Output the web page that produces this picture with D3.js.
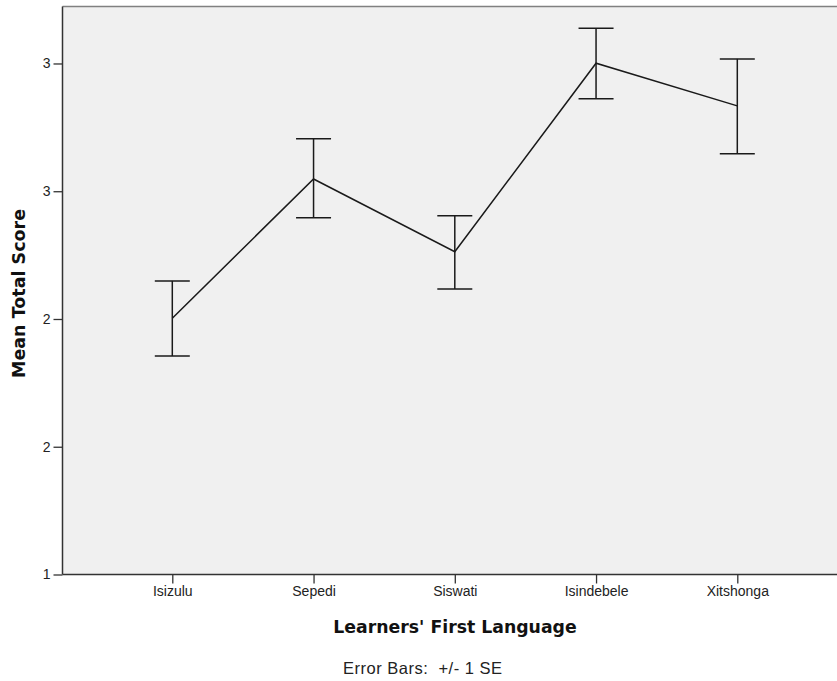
<!DOCTYPE html>
<html><head><meta charset="utf-8">
<script src="https://cdn.jsdelivr.net/npm/d3@7"></script>
<style>body{margin:0;background:#fff;}svg{display:block;}</style>
</head><body>
<script>
const categories = ["Isizulu", "Sepedi", "Siswati", "Isindebele", "Xitshonga"];
const means = [2.003, 2.548, 2.263, 3.001, 2.834];
const upper = [2.149, 2.705, 2.404, 3.138, 3.018];
const lower = [1.855, 2.396, 2.117, 2.862, 2.647];
const yTickValues = [1, 1.5, 2, 2.5, 3];
const yTickLabels = ["1", "2", "2", "3", "3"];
const xTitle = "Learners' First Language";
const yTitle = "Mean Total Score";
const note = "Error Bars:  +/- 1 SE";

(function () {
const W = 837, H = 681;
const plotLeft = 62.5, plotTop = 6.5, plotBottom = 574.5;
const svg = d3.select("body").append("svg").attr("width", W).attr("height", H);

const x = d3.scalePoint().domain(categories).range([172.3, 737.3]);
const y = d3.scaleLinear().domain([1, 3.223]).range([plotBottom, plotTop]);

svg.append("rect").attr("x", plotLeft).attr("y", plotTop).attr("width", W - plotLeft + 5).attr("height", plotBottom - plotTop)
  .attr("fill", "#f0f0f0");
svg.append("line").attr("x1", plotLeft).attr("x2", W).attr("y1", plotTop).attr("y2", plotTop)
  .attr("stroke", "#808080").attr("stroke-width", 1.5);

const data = categories.map((c, i) => ({c, m: means[i], hi: upper[i], lo: lower[i]}));

// y axis
const yAxis = d3.axisLeft(y).tickValues(yTickValues).tickFormat((d, i) => yTickLabels[i]).tickSize(9).tickPadding(3);
const gy = svg.append("g").attr("transform", `translate(${plotLeft},0)`).call(yAxis);
gy.select(".domain").attr("stroke", "#333").attr("stroke-width", 1.5).attr("d", `M0,${plotTop}V${plotBottom}`);
gy.selectAll(".tick line").attr("stroke", "#333").attr("stroke-width", 1.3);
gy.selectAll(".tick text").attr("font-family", "Liberation Sans, Arial, sans-serif").attr("font-size", 14).attr("fill", "#222");

// x axis
const xAxis = d3.axisBottom(x).tickSize(9).tickPadding(3);
const gx = svg.append("g").attr("transform", `translate(0,${plotBottom})`).call(xAxis);
gx.select(".domain").attr("stroke", "#333").attr("stroke-width", 1.5).attr("d", `M${plotLeft},0H${W}`);
gx.selectAll(".tick line").attr("stroke", "#333").attr("stroke-width", 1.3);
gx.selectAll(".tick text").attr("font-family", "Liberation Sans, Arial, sans-serif").attr("font-size", 14).attr("fill", "#222");

// line
const line = d3.line().x(d => x(d.c)).y(d => y(d.m));
svg.append("path").datum(data).attr("d", line).attr("fill", "none").attr("stroke", "#1a1a1a").attr("stroke-width", 1.5);

// error bars
const cap = 17.5;
const eb = svg.append("g").attr("stroke", "#1a1a1a").attr("stroke-width", 1.5);
eb.selectAll(".v").data(data).join("line").attr("class", "v").attr("x1", d => x(d.c)).attr("x2", d => x(d.c))
  .attr("y1", d => y(d.hi)).attr("y2", d => y(d.lo));
eb.selectAll(".t").data(data).join("line").attr("class", "t").attr("x1", d => x(d.c) - cap).attr("x2", d => x(d.c) + cap)
  .attr("y1", d => y(d.hi)).attr("y2", d => y(d.hi));
eb.selectAll(".b").data(data).join("line").attr("class", "b").attr("x1", d => x(d.c) - cap).attr("x2", d => x(d.c) + cap)
  .attr("y1", d => y(d.lo)).attr("y2", d => y(d.lo));

// titles
svg.append("text").attr("x", 455).attr("y", 633).attr("text-anchor", "middle")
  .attr("font-family", "DejaVu Sans, sans-serif").attr("font-weight", "bold").attr("font-size", 17.3)
  .attr("fill", "#111").text(xTitle);
svg.append("text").attr("transform", "translate(25,293.5) rotate(-90)").attr("text-anchor", "middle")
  .attr("font-family", "DejaVu Sans, sans-serif").attr("font-weight", "bold").attr("font-size", 17.5)
  .attr("fill", "#111").text(yTitle);
svg.append("text").attr("x", 343).attr("y", 674).attr("text-anchor", "start")
  .attr("font-family", "Liberation Sans, Arial, sans-serif").attr("font-size", 16.5)
  .attr("letter-spacing", 0.5)
  .attr("fill", "#222").style("white-space", "pre").text(note);
})();
</script>
</body></html>
